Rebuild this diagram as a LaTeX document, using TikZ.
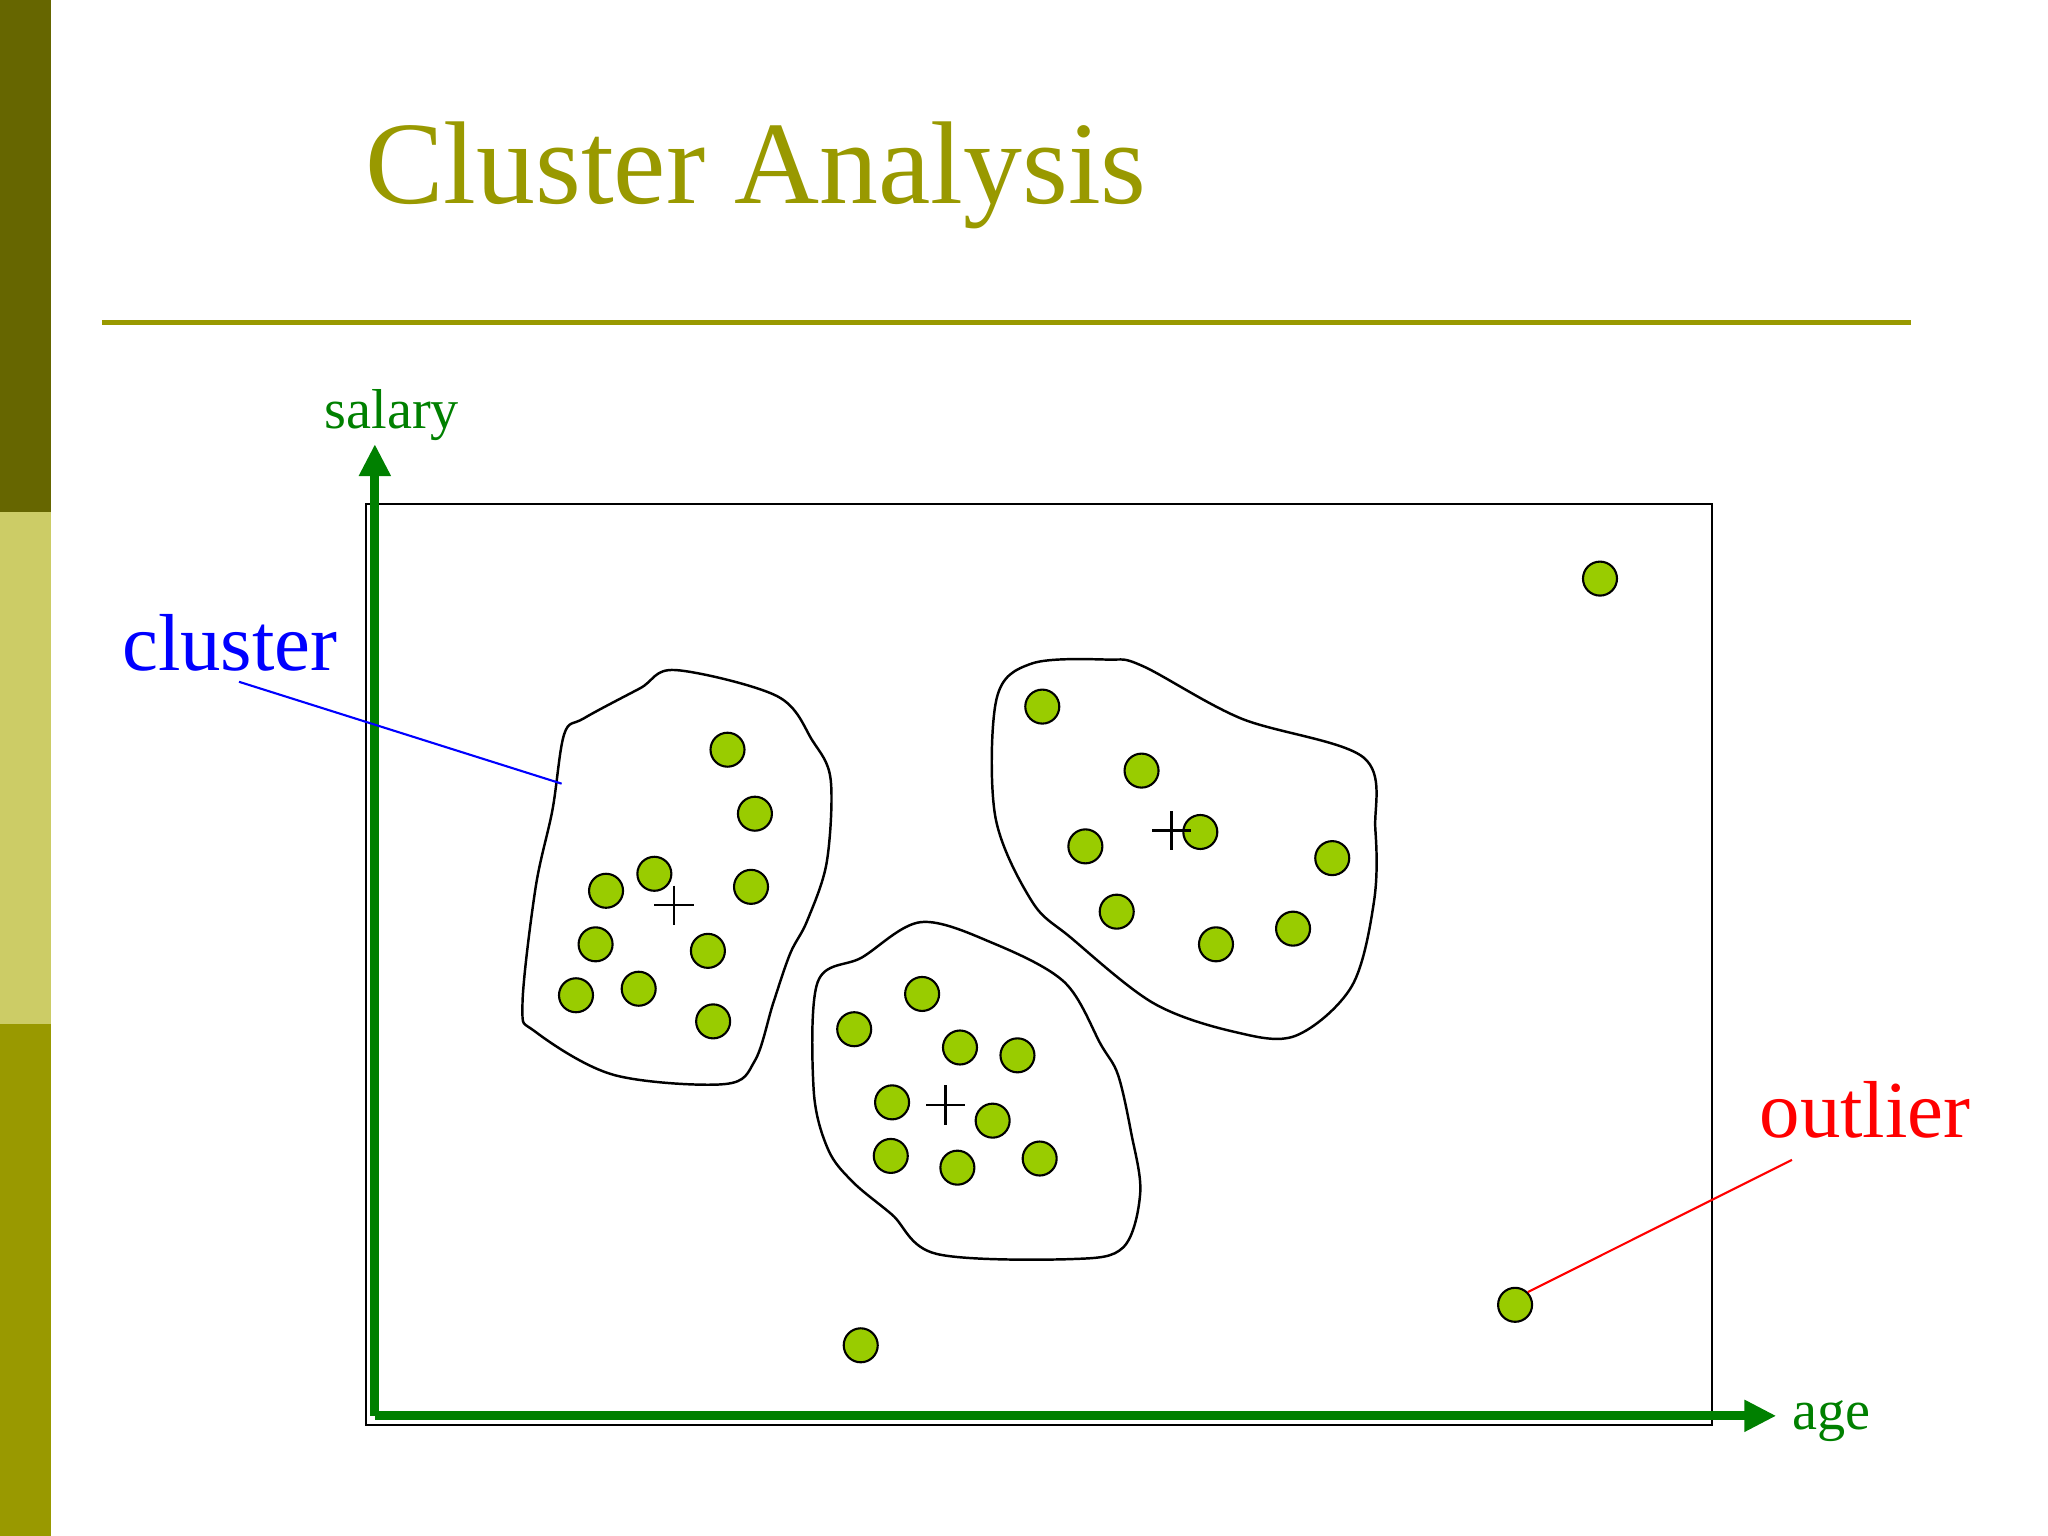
\documentclass[tikz,border=0pt]{standalone}
\usepackage{fontspec}
\setmainfont{Liberation Serif}
\usetikzlibrary{arrows.meta}
\begin{document}
\begin{tikzpicture}[x=0.013061cm,y=-0.013061cm,
  dot/.style={circle,draw=black,fill=yellowgreen,minimum size=0.34cm,inner sep=0pt,line width=0.6pt},
  blob/.style={draw=black,line width=0.7pt},
  ax/.style={draw=axgreen,line width=2.6pt,-{Triangle[length=0.32cm,width=0.3cm]}}]
\definecolor{yellowgreen}{HTML}{99CC00}
\definecolor{olive}{HTML}{999900}
\definecolor{darkolive}{HTML}{666600}
\definecolor{lightolive}{HTML}{CCCC66}
\definecolor{axgreen}{HTML}{008000}
\useasboundingbox (0,0) rectangle (1568,1176);
\fill[white] (0,0) rectangle (1568,1176);
\fill[darkolive] (0,0) rectangle (39,392);
\fill[lightolive] (0,392) rectangle (39,784);
\fill[olive] (0,784) rectangle (39,1176);
\node[anchor=base west,text=olive,font=\fontsize{33.5}{36}\selectfont,inner sep=0] (title) at (279,156) {Cluster Analysis};
\draw[olive,line width=1.6pt] (78,247) -- (1463,247);
\draw[black,line width=0.6pt] (280,386) rectangle (1311,1091);
\coordinate (o) at (287,1084);
\coordinate (ytip) at (287,340);
\coordinate (xtip) at (1360,1084);
\draw[ax] (o) -- (ytip);
\draw[ax] (o) -- (xtip);
\node[text=axgreen,font=\fontsize{16}{18}\selectfont] (sal) at (300,318) {salary};
\node[text=axgreen,font=\fontsize{16}{18}\selectfont] (age) at (1402,1088) {age};
\draw[blob] plot[smooth cycle,tension=0.55] coordinates {(517,513) (595,533) (622,567) (636,597) (633,660) (618,705) (605,730) (592,768) (578,812) (555,830) (470,823) (410,790) (400,770) (410,680) (423,620) (432,562) (447,550) (490,527)};
\draw[blob] plot[smooth cycle,tension=0.55] coordinates {(848,505) (875,510) (950,550) (1044,580) (1053,635) (1052,690) (1035,755) (992,793) (945,790) (883,768) (820,718) (790,690) (762,625) (763,535) (790,508)};
\draw[blob] plot[smooth cycle,tension=0.55] coordinates {(705,706) (760,722) (815,752) (843,800) (856,823) (866,867) (873,913) (860,955) (820,964) (717,960) (683,930) (653,905) (634,880) (623,835) (626,752) (660,733)};
\foreach \p/\n in {{(1225,443)}/a1,{(557,574)}/a2,{(578,623)}/a3,{(464,682)}/a4,{(501,669)}/a5,{(575,679)}/a6,{(456,723)}/a7,{(542,728)}/a8,{(441,762)}/a9,{(489,757)}/a10,{(546,782)}/a11,{(798,541)}/a12,{(874,590)}/a13,{(919,637)}/a14,{(831,648)}/a15,{(1020,657)}/a16,{(855,698)}/a17,{(931,723)}/a18,{(990,711)}/a19,{(706,761)}/a20,{(654,788)}/a21,{(735,802)}/a22,{(779,808)}/a23,{(683,844)}/a24,{(760,858)}/a25,{(682,885)}/a26,{(733,894)}/a27,{(796,887)}/a28,{(1160,999)}/out,{(659,1030)}/a30}
  \node[dot] (\n) at \p {};
\foreach \c in {(516,693),(897,636),(724,846)}
  \draw[line width=0.7pt] \c ++(-15,0) -- ++(30,0) \c ++(0,-15) -- ++(0,30);
\node[text=blue,font=\fontsize{23}{26}\selectfont] (cl) at (176,492) {cluster};
\coordinate (clend) at (430,600);
\draw[blue,line width=0.6pt] (183,522) -- (clend);
\node[text=red,font=\fontsize{23}{26}\selectfont] (ol) at (1428,850) {outlier};
\draw[red,line width=0.6pt] (1372,888) -- (out.north east);
\end{tikzpicture}
\end{document}
